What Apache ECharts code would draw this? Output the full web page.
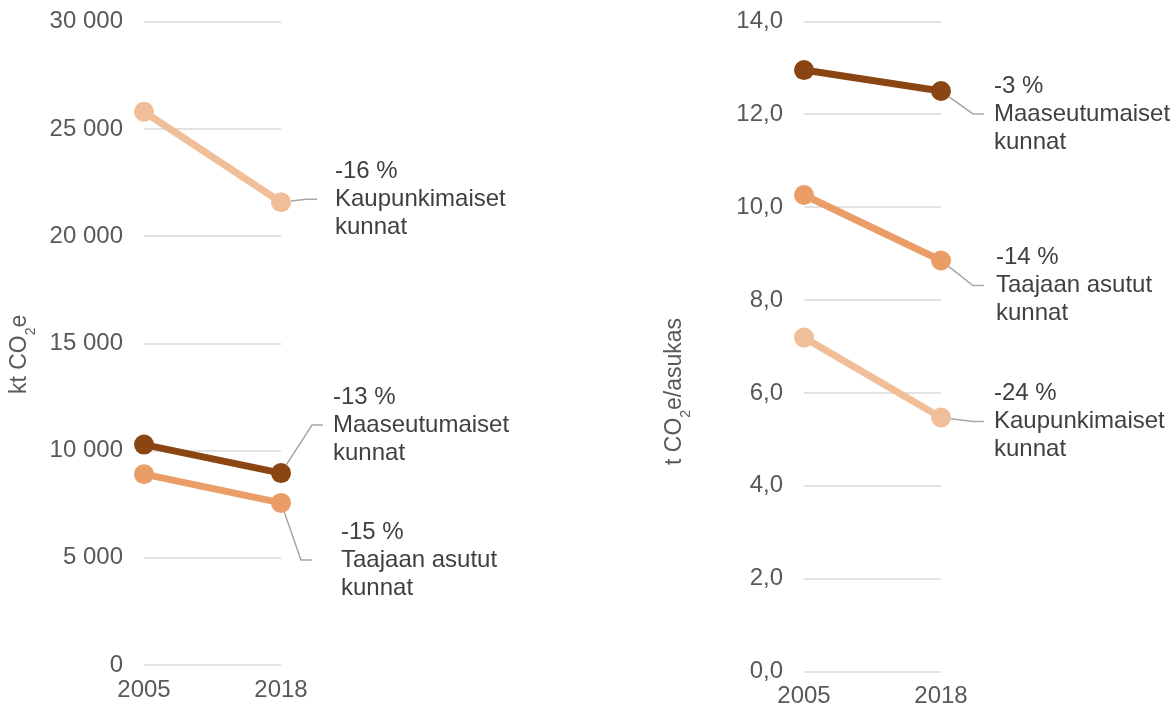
<!DOCTYPE html>
<html>
<head>
<meta charset="utf-8">
<script src="https://cdn.jsdelivr.net/npm/echarts@6/dist/echarts.min.js"></script>
<style>
html,body{margin:0;padding:0;background:#fff;}
#chart{width:1176px;height:711px;}
</style>
</head>
<body>
<div id="chart"></div>
<script>
// ---- data ----
const years = ['2005', '2018'];
const groupNames = ['Maaseutumaiset kunnat', 'Taajaan asutut kunnat', 'Kaupunkimaiset kunnat'];
const groupColors = ['#8B4513', '#EA9D66', '#F0BE98'];
// kt CO2e
const totalMaaseutu = [10280, 8950];
const totalTaajaan = [8900, 7560];
const totalKaupunki = [25800, 21580];
const totalChange = ['-13 %', '-15 %', '-16 %'];
// t CO2e / asukas
const perCapMaaseutu = [12.95, 12.50];
const perCapTaajaan = [10.26, 8.85];
const perCapKaupunki = [7.19, 5.47];
const perCapChange = ['-3 %', '-14 %', '-24 %'];
const leftTicks = { min: 0, max: 30000, interval: 5000 };
const rightTicks = { min: 0, max: 14, interval: 2 };

// label placement relative to the 2018 point: [dx to leader end, dy, gap to text]
const leftLabelPos = [[42, -48, 10], [31, 57, 29], [36, -3, 18]];
const rightLabelPos = [[43, 23, 10], [43, 25, 12], [43, 4, 10]];

const txtColor = '#595959';
const lblColor = '#404040';
const font = "'Liberation Sans', Arial, sans-serif";

function splitName(n) {
  const i = n.lastIndexOf(' ');
  return n.slice(0, i) + '\n' + n.slice(i + 1);
}

function makeSeries(gi, values, change, axisIdx, pos) {
  return {
    name: groupNames[gi],
    type: 'line',
    xAxisIndex: axisIdx,
    yAxisIndex: axisIdx,
    data: values.map((v, i) => {
      if (i !== values.length - 1) return v;
      return {
        value: v,
        label: {
          show: true,
          formatter: change[gi] + '\n' + splitName(groupNames[gi]),
          padding: [0, 0, 0, pos[gi][2]]
        }
      };
    }),
    symbol: 'circle',
    symbolSize: 20,
    itemStyle: { color: groupColors[gi] },
    lineStyle: { color: groupColors[gi], width: 7 },
    label: {
      show: false,
      fontFamily: font,
      fontSize: 24,
      lineHeight: 28,
      color: lblColor,
      align: 'left'
    },
    labelLine: {
      show: true,
      length2: 11,
      minTurnAngle: 90,
      lineStyle: { color: '#A6A6A6', width: 1.5 }
    },
    labelLayout: function (params) {
      const cx = params.rect.x + params.rect.width / 2;
      const cy = params.rect.y + params.rect.height / 2;
      return {
        x: cx + pos[gi][0],
        y: cy + pos[gi][1],
        align: 'left',
        verticalAlign: 'middle'
      };
    },
    z: 3 - gi
  };
}

function xAxisOf(gridIndex) {
  return {
    type: 'category',
    gridIndex: gridIndex,
    data: years,
    boundaryGap: false,
    axisLine: { show: false },
    axisTick: { show: false },
    axisLabel: { fontFamily: font, fontSize: 24, color: txtColor, margin: 13 }
  };
}

const richName = {
  n: { fontFamily: font, fontSize: 23, color: txtColor, verticalAlign: 'bottom', padding: [0, 0, 7, 0] },
  s: { fontFamily: font, fontSize: 14, color: txtColor, verticalAlign: 'bottom' }
};

const option = {
  animation: false,
  backgroundColor: '#fff',
  grid: [
    { left: 144, top: 21.7, width: 137, height: 643.3 },
    { left: 804, top: 21.3, width: 137, height: 650.3 }
  ],
  xAxis: [xAxisOf(0), xAxisOf(1)],
  yAxis: [
    {
      type: 'value', gridIndex: 0,
      min: leftTicks.min, max: leftTicks.max, interval: leftTicks.interval,
      axisLine: { show: false }, axisTick: { show: false },
      splitLine: { lineStyle: { color: '#D9D9D9', width: 1.5 } },
      axisLabel: {
        fontFamily: font, fontSize: 24, color: txtColor, margin: 21,
        formatter: v => String(v).replace(/\B(?=(\d{3})+(?!\d))/g, ' ')
      },
      name: '{n|kt CO}{s|2}{n|e}',
      nameLocation: 'middle',
      nameGap: 106,
      nameTextStyle: { rich: richName, padding: [0, 22, 0, 0] }
    },
    {
      type: 'value', gridIndex: 1,
      min: rightTicks.min, max: rightTicks.max, interval: rightTicks.interval,
      axisLine: { show: false }, axisTick: { show: false },
      splitLine: { lineStyle: { color: '#D9D9D9', width: 1.5 } },
      axisLabel: {
        fontFamily: font, fontSize: 24, color: txtColor, margin: 21,
        formatter: v => v.toFixed(1).replace('.', ',')
      },
      name: '{n|t CO}{s|2}{n|e/asukas}',
      nameLocation: 'middle',
      nameGap: 111,
      nameTextStyle: { rich: richName, padding: [0, 90, 0, 0] }
    }
  ],
  series: [
    makeSeries(0, totalMaaseutu, totalChange, 0, leftLabelPos),
    makeSeries(1, totalTaajaan, totalChange, 0, leftLabelPos),
    makeSeries(2, totalKaupunki, totalChange, 0, leftLabelPos),
    makeSeries(0, perCapMaaseutu, perCapChange, 1, rightLabelPos),
    makeSeries(1, perCapTaajaan, perCapChange, 1, rightLabelPos),
    makeSeries(2, perCapKaupunki, perCapChange, 1, rightLabelPos)
  ]
};

const chart = echarts.init(document.getElementById('chart'), null, { renderer: 'canvas' });
chart.setOption(option);
</script>
</body>
</html>
